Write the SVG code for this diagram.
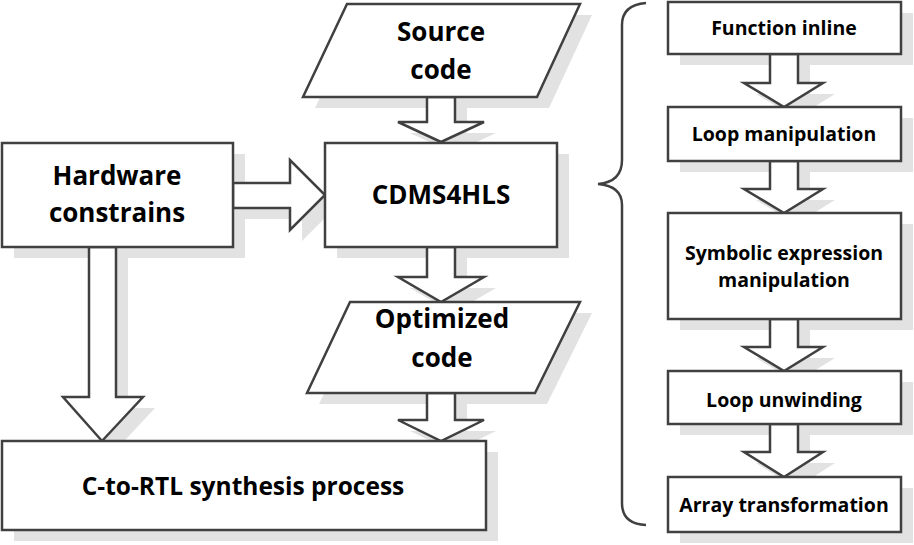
<svg xmlns="http://www.w3.org/2000/svg" width="914" height="545" viewBox="0 0 914 545">
<style>
.sh{fill:#e2e2e2;stroke:none}
.nd{fill:#fff;stroke:#404040;stroke-width:2.5;stroke-linejoin:miter}
.ar{fill:#fff;stroke:#404040;stroke-width:2.5;stroke-linejoin:miter}
.br{fill:none;stroke:#404040;stroke-width:2.5}
text{font-family:"Open Sans","Liberation Sans",sans-serif;font-weight:bold;fill:#000;text-anchor:middle}
.big{font-size:26px}
.sm{font-size:19.5px}
</style>
<g id="shadows" transform="translate(12,11)">
<polygon class="sh" points="347,4 580,4 537,97 303,97"/>
<rect class="sh" x="2" y="143" width="231" height="104"/>
<rect class="sh" x="325" y="143" width="232" height="104"/>
<polygon class="sh" points="350,302 580,302 535,393 307,393"/>
<rect class="sh" x="2" y="441" width="484" height="89"/>
<rect class="sh" x="668" y="2" width="233" height="52"/>
<rect class="sh" x="668" y="107" width="233" height="54"/>
<rect class="sh" x="668" y="213" width="233" height="106"/>
<rect class="sh" x="668" y="371" width="233" height="53"/>
<rect class="sh" x="668" y="477" width="233" height="55"/>
<polygon class="sh" points="427,97 455,97 455,122 484,122 441,142 398,122 427,122"/>
<polygon class="sh" points="427,247 455,247 455,277 484,277 441,302 398,277 427,277"/>
<polygon class="sh" points="427,393 455,393 455,420 484,420 441,441 398,420 427,420"/>
<polygon class="sh" points="89,247 116,247 116,397 143,397 102,441 63,397 89,397"/>
<polygon class="sh" points="233,183 290,183 290,160 325,195 290,230 290,208 233,208"/>
<polygon class="sh" points="770,54 798,54 798,83 823,83 784,107 744,83 770,83"/>
<polygon class="sh" points="770,161 798,161 798,189 823,189 784,213 744,189 770,189"/>
<polygon class="sh" points="770,319 798,319 798,347 823,347 784,371 744,347 770,347"/>
<polygon class="sh" points="770,424 798,424 798,452 823,452 784,477 744,452 770,452"/>
</g>
<g id="connectors">
<polygon class="ar" points="427,97 455,97 455,122 484,122 441,142 398,122 427,122"/>
<polygon class="ar" points="427,247 455,247 455,277 484,277 441,302 398,277 427,277"/>
<polygon class="ar" points="427,393 455,393 455,420 484,420 441,441 398,420 427,420"/>
<polygon class="ar" points="89,247 116,247 116,397 143,397 102,441 63,397 89,397"/>
<polygon class="ar" points="233,183 290,183 290,160 325,195 290,230 290,208 233,208"/>
<polygon class="ar" points="770,54 798,54 798,83 823,83 784,107 744,83 770,83"/>
<polygon class="ar" points="770,161 798,161 798,189 823,189 784,213 744,189 770,189"/>
<polygon class="ar" points="770,319 798,319 798,347 823,347 784,371 744,347 770,347"/>
<polygon class="ar" points="770,424 798,424 798,452 823,452 784,477 744,452 770,452"/>
<path class="br" d="M646,3 Q622,5 622,25 L622,160 Q622,182 598,184 Q622,186 622,205 L622,503 Q622,524 646,525"/>
</g>
<g id="source-code">
<polygon class="nd" points="347,4 580,4 537,97 303,97"/>
<text class="big" x="441" y="41">Source</text>
<text class="big" x="441" y="79">code</text>
</g>
<g id="hardware-constrains">
<rect class="nd" x="2" y="143" width="231" height="104"/>
<text class="big" x="117" y="185">Hardware</text>
<text class="big" x="117" y="222">constrains</text>
</g>
<g id="cdms4hls">
<rect class="nd" x="325" y="143" width="232" height="104"/>
<text class="big" x="441" y="204">CDMS4HLS</text>
</g>
<g id="optimized-code">
<polygon class="nd" points="350,302 580,302 535,393 307,393"/>
<text class="big" x="442" y="328">Optimized</text>
<text class="big" x="442" y="367">code</text>
</g>
<g id="c-to-rtl">
<rect class="nd" x="2" y="441" width="484" height="89"/>
<text class="big" x="243" y="495" style="font-size:24.5px">C-to-RTL synthesis process</text>
</g>
<g id="function-inline">
<rect class="nd" x="668" y="2" width="233" height="52"/>
<text class="sm" x="784" y="35">Function inline</text>
</g>
<g id="loop-manipulation">
<rect class="nd" x="668" y="107" width="233" height="54"/>
<text class="sm" x="784" y="141">Loop manipulation</text>
</g>
<g id="symbolic-expression">
<rect class="nd" x="668" y="213" width="233" height="106"/>
<text class="sm" x="784" y="260">Symbolic expression</text>
<text class="sm" x="784" y="287">manipulation</text>
</g>
<g id="loop-unwinding">
<rect class="nd" x="668" y="371" width="233" height="53"/>
<text class="sm" x="784" y="407">Loop unwinding</text>
</g>
<g id="array-transformation">
<rect class="nd" x="668" y="477" width="233" height="55"/>
<text class="sm" x="784" y="512">Array transformation</text>
</g>
</svg>
